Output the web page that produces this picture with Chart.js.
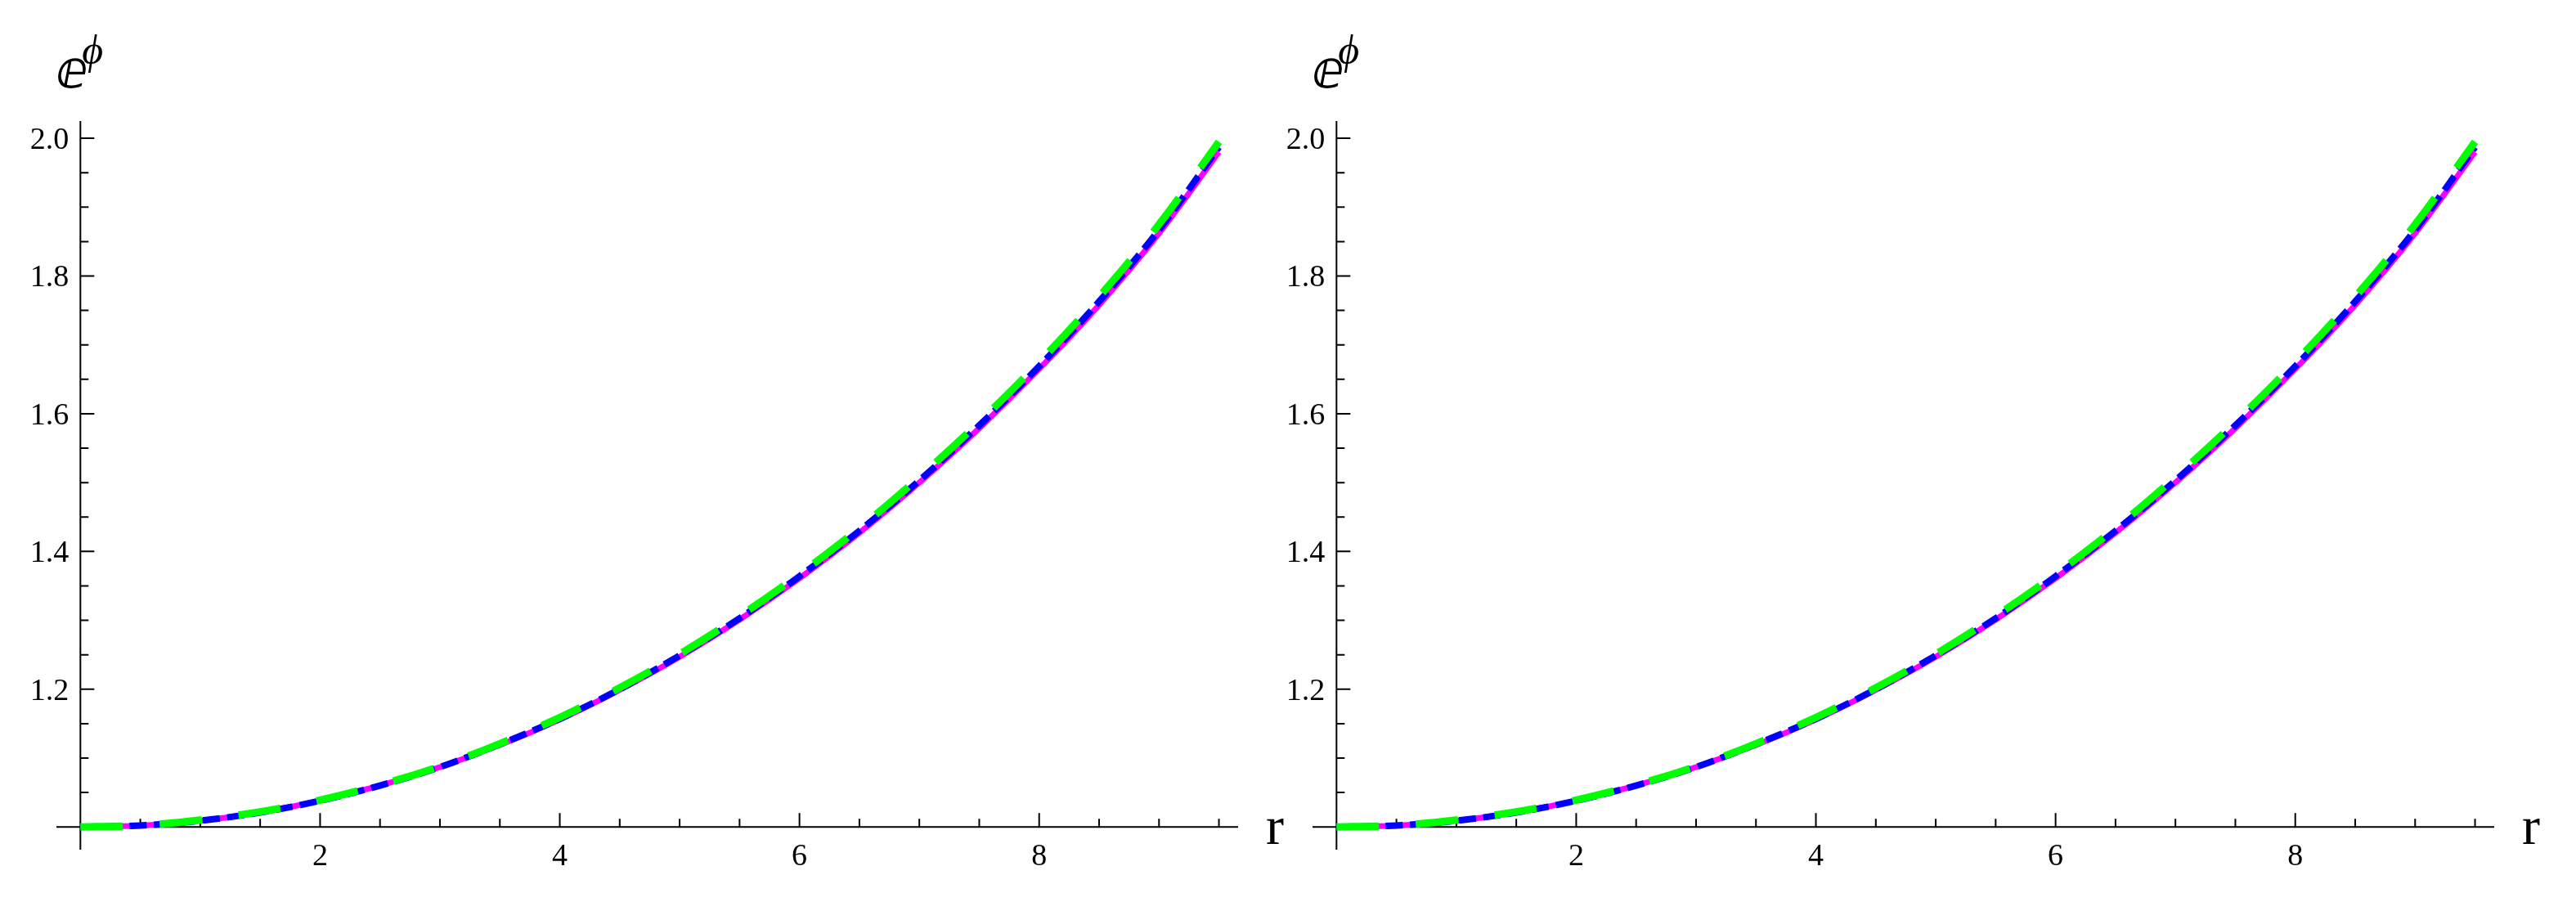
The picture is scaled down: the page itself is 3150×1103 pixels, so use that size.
<!DOCTYPE html>
<html>
<head>
<meta charset="utf-8">
<script src="https://cdn.jsdelivr.net/npm/chart.js@4/dist/chart.umd.min.js"></script>
<style>
  html, body { margin: 0; padding: 0; background: #fff; }
  body { width: 3150px; height: 1103px; position: relative; overflow: hidden; font-family: "Liberation Serif", serif; }
  canvas { position: absolute; top: 0; }
  #leftChart { left: 0; }
  #rightChart { left: 1536px; }
</style>
</head>
<body>
<canvas id="leftChart" width="1614" height="1103"></canvas>
<canvas id="rightChart" width="1614" height="1103"></canvas>
<script>
// sample radii
const rValues = [0, 0.5, 1, 1.5, 2, 2.5, 3, 3.5, 4, 4.5, 5, 5.5, 6, 6.5, 7, 7.5, 8, 8.5, 9, 9.5];

// e^phi, three solutions
const magentaValues = [1.000, 1.002, 1.009, 1.021, 1.038, 1.060, 1.087, 1.119, 1.156, 1.199, 1.247, 1.301, 1.361, 1.427, 1.500, 1.579, 1.665, 1.758, 1.862, 1.980];
const blueValues    = [1.000, 1.002, 1.009, 1.021, 1.038, 1.060, 1.087, 1.120, 1.157, 1.200, 1.249, 1.303, 1.364, 1.430, 1.503, 1.583, 1.669, 1.763, 1.867, 1.987];
const greenValues   = [1.000, 1.002, 1.010, 1.022, 1.039, 1.061, 1.088, 1.121, 1.159, 1.202, 1.251, 1.306, 1.367, 1.434, 1.508, 1.588, 1.675, 1.770, 1.875, 1.995];

// axis ticks
const xMajorTicks = [2, 4, 6, 8];
const xTickLabels = ['2', '4', '6', '8'];
const xMinorTicks = [0.5, 1, 1.5, 2.5, 3, 3.5, 4.5, 5, 5.5, 6.5, 7, 7.5, 8.5, 9, 9.5];
const yMajorTicks = [1.2, 1.4, 1.6, 1.8, 2.0];
const yTickLabels = ['1.2', '1.4', '1.6', '1.8', '2.0'];
const yMinorTicks = [1.05, 1.1, 1.15, 1.25, 1.3, 1.35, 1.45, 1.5, 1.55, 1.65, 1.7, 1.75, 1.85, 1.9, 1.95];

function points(vals) {
    return rValues.map((r, i) => ({ x: r, y: vals[i] }));
}

// Mathematica-style axes crossing at (0, 1), ticks pointing inward
const axesPlugin = {
    id: 'axes',
    beforeDatasetsDraw(chart) {
        const c = chart.ctx;
        const xs = chart.scales.x, ys = chart.scales.y;
        const area = chart.chartArea;
        const x0 = xs.getPixelForValue(0);
        const y0 = ys.getPixelForValue(1);
        c.save();
        c.strokeStyle = '#000';
        c.lineWidth = 2;
        c.beginPath();
        c.moveTo(area.left, y0); c.lineTo(area.right, y0);
        c.moveTo(x0, area.top); c.lineTo(x0, area.bottom);
        xMajorTicks.forEach(v => { const p = xs.getPixelForValue(v); c.moveTo(p, y0); c.lineTo(p, y0 - 17); });
        xMinorTicks.forEach(v => { const p = xs.getPixelForValue(v); c.moveTo(p, y0); c.lineTo(p, y0 - 10); });
        yMajorTicks.forEach(v => { const p = ys.getPixelForValue(v); c.moveTo(x0, p); c.lineTo(x0 + 17, p); });
        yMinorTicks.forEach(v => { const p = ys.getPixelForValue(v); c.moveTo(x0, p); c.lineTo(x0 + 10, p); });
        c.stroke();

        c.fillStyle = '#000';
        c.font = '38px "Liberation Serif"';
        c.textAlign = 'center';
        c.textBaseline = 'alphabetic';
        xMajorTicks.forEach((v, i) => c.fillText(xTickLabels[i], xs.getPixelForValue(v), y0 + 47));
        c.textAlign = 'right';
        yMajorTicks.forEach((v, i) => c.fillText(yTickLabels[i], x0 - 14, ys.getPixelForValue(v) + 13));

        // axis labels
        c.textAlign = 'left';
        c.font = '66px "Liberation Serif"';
        c.fillText('r', area.right + 34, y0 + 21);
        c.font = 'italic 64px "DejaVu Serif", "DejaVu Sans", "Liberation Serif"';
        c.fillText('ⅇ', x0 - 30, 107);
        c.font = 'italic 50px "Liberation Serif", "DejaVu Serif"';
        c.fillText('ϕ', x0 + 2, 78);
        c.restore();
    }
};

function makeChart(id) {
    const ctx = document.getElementById(id).getContext('2d');
    return new Chart(ctx, {
        type: 'line',
        data: {
            datasets: [{
                label: 'green',
                data: points(greenValues),
                borderColor: '#00ff00',
                borderWidth: 9,
                borderDash: [52, 45],
                order: 1
            }, {
                label: 'blue',
                data: points(blueValues),
                borderColor: '#0000ff',
                borderWidth: 8,
                borderDash: [21, 9],
                order: 2
            }, {
                label: 'magenta',
                data: points(magentaValues),
                borderColor: '#ff00ff',
                borderWidth: 7,
                order: 3
            }]
        },
        options: {
            responsive: false,
            animation: false,
            devicePixelRatio: 1,
            layout: { padding: { left: 69, right: 100, top: 148, bottom: 64 } },
            elements: {
                point: { radius: 0 },
                line: { cubicInterpolationMode: 'monotone', fill: false }
            },
            plugins: { legend: { display: false }, tooltip: { enabled: false } },
            scales: {
                x: { type: 'linear', min: -0.2, max: 9.66, display: false },
                y: { type: 'linear', min: 0.967, max: 2.025, display: false }
            }
        },
        plugins: [axesPlugin]
    });
}

// make sure the serif faces are ready before the canvas text is drawn
Promise.all([
    document.fonts.load('38px "Liberation Serif"', '1.2'),
    document.fonts.load('italic 50px "Liberation Serif"', 'ϕ'),
    document.fonts.load('italic 64px "DejaVu Serif"', 'ⅇ'),
    document.fonts.load('italic 64px "DejaVu Sans"', 'ⅇ')
]).catch(() => {}).then(() => {
    makeChart('leftChart');
    makeChart('rightChart');
});
</script>
</body>
</html>
